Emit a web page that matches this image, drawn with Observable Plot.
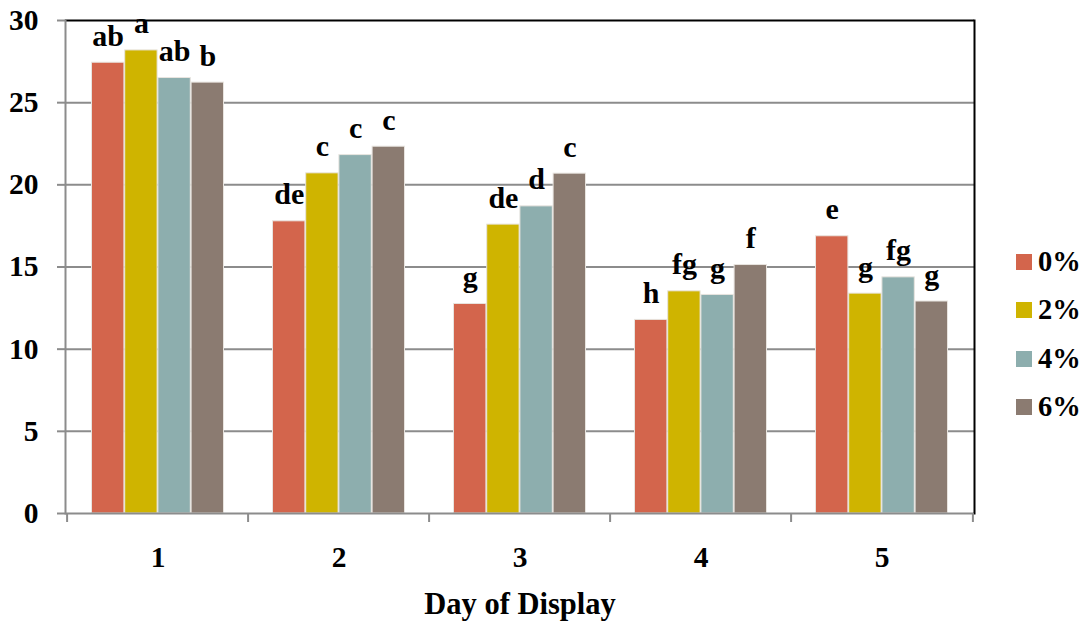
<!DOCTYPE html>
<html>
<head>
<meta charset="utf-8">
<script src="https://cdn.jsdelivr.net/npm/d3@7"></script>
<script src="https://cdn.jsdelivr.net/npm/@observablehq/plot@0.6"></script>
<style>
  html, body { margin: 0; padding: 0; background: white; }
  #wrap { position: relative; width: 1089px; height: 630px; font-family: "Liberation Serif", "Times New Roman", serif; font-weight: bold; }
  #legend { position: absolute; left: 1016px; top: 238px; }
  .item { display: flex; align-items: center; height: 48.3px; font-size: 28.5px; color: black; }
  .sw { width: 16px; height: 16px; margin-right: 6px; }
</style>
</head>
<body>
<div id="wrap"></div>
<script>
// ---- data ----
const days = ["1", "2", "3", "4", "5"];
const series = ["0%", "2%", "4%", "6%"];
const colors = ["#D3654C", "#CFB400", "#8DAEAE", "#8B7B71"];
const values0 = [27.43, 17.78, 12.75, 11.78, 16.87];
const values2 = [28.18, 20.70, 17.58, 13.52, 13.38];
const values4 = [26.50, 21.81, 18.69, 13.30, 14.37];
const values6 = [26.22, 22.32, 20.68, 15.12, 12.90];
const letters0 = ["ab", "de", "g", "h", "e"];
const letters2 = ["a", "c", "de", "fg", "g"];
const letters4 = ["ab", "c", "d", "g", "fg"];
const letters6 = ["b", "c", "c", "f", "g"];
const yTicks = [0, 5, 10, 15, 20, 25, 30];
const xTitle = "Day of Display";

const allValues = [values0, values2, values4, values6];
const allLetters = [letters0, letters2, letters4, letters6];
const table = series.map((s, i) => days.map((d, j) => ({day: d, series: s, value: allValues[i][j], letter: allLetters[i][j]})));

// ---- layout ----
const W = 1089, H = 630;
const mL = 65, mR = 115, mT = 20, mB = 117;
const step = (W - mL - mR) / days.length;
const barW = step * 0.1826;
const pad = (step - 4 * barW) / 2;
const grey = "#8c8c8c";

const barMarks = [];
const textMarks = [];
series.forEach((s, i) => {
  const left = pad + i * barW;
  const right = step - left - barW;
  barMarks.push(Plot.barY(table[i], {x: "day", y: "value", fill: colors[i], insetLeft: left, insetRight: right, stroke: "#e8e4df", strokeWidth: 1}));
  textMarks.push(Plot.text(table[i], {x: "day", y: "value", text: "letter", dx: left + barW / 2 - step / 2, dy: -17, lineAnchor: "bottom", fill: "black", fontSize: 30}));
});

const chart = Plot.plot({
  width: W, height: H,
  marginLeft: mL, marginRight: mR, marginTop: mT, marginBottom: mB,
  style: {fontFamily: "'Liberation Serif', 'Times New Roman', serif", fontWeight: "bold", fontSize: "29.5px", color: "black", background: "white"},
  x: {type: "band", domain: days, padding: 0, label: null},
  y: {domain: [0, 30], label: null},
  marks: [
    Plot.ruleY([5, 10, 15, 20, 25], {stroke: grey, strokeWidth: 2}),
    ...barMarks,
    Plot.ruleY([0], {stroke: grey, strokeWidth: 2}),
    Plot.ruleY([30], {stroke: "black", strokeWidth: 2}),
    Plot.frame({anchor: "left", stroke: grey, strokeWidth: 2}),
    Plot.frame({anchor: "right", stroke: "black", strokeWidth: 2}),
    Plot.axisY({ticks: yTicks, tickSize: 8, tickPadding: 19, stroke: grey, strokeWidth: 2, fill: "black", label: null}),
    Plot.axisX({tickSize: 0, tickPadding: 33, fill: "black", label: null}),
    Plot.axisX({tickSize: 9, tickFormat: () => "", dx: -step / 2, stroke: grey, strokeWidth: 2, label: null}),
    Plot.axisX({ticks: [days[days.length - 1]], tickSize: 9, tickFormat: () => "", dx: step / 2, stroke: grey, strokeWidth: 2, label: null}),
    ...textMarks,
    Plot.text([xTitle], {frameAnchor: "bottom", dy: 100, fill: "black", fontSize: 30.5})
  ]
});

const wrap = document.getElementById("wrap");
wrap.appendChild(chart);
const legend = document.createElement("div");
legend.id = "legend";
series.forEach((s, i) => {
  const item = document.createElement("div");
  item.className = "item";
  const sw = document.createElement("div");
  sw.className = "sw";
  sw.style.background = colors[i];
  const lab = document.createElement("span");
  lab.textContent = s;
  item.appendChild(sw);
  item.appendChild(lab);
  legend.appendChild(item);
});
wrap.appendChild(legend);
</script>
</body>
</html>
